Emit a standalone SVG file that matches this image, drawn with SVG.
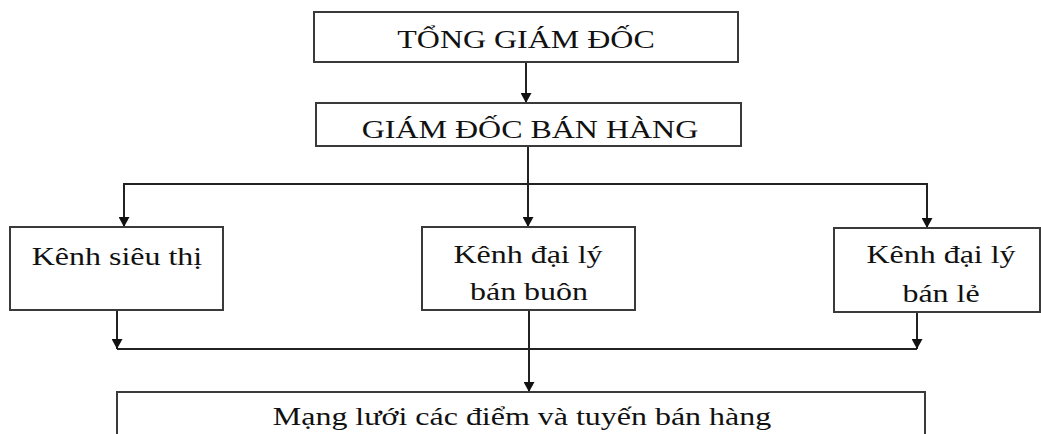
<svg xmlns="http://www.w3.org/2000/svg" width="1041" height="434" viewBox="0 0 1041 434">
  <style>
    .box { fill: #ffffff; stroke: #3a3a3a; stroke-width: 2; }
    .wire { fill: none; stroke: #222222; stroke-width: 2; }
    .lbl { font-family: "Liberation Serif", "Times New Roman", serif; font-size: 26px; fill: #111111; text-anchor: middle; }
  </style>
  <defs>
    <!-- solid triangular arrowhead, tip at the end of the line -->
    <marker id="tip" markerUnits="userSpaceOnUse" markerWidth="12" markerHeight="11" refX="11" refY="6" orient="auto" viewBox="0 0 11 12">
      <path d="M0,0 L11,6 L0,12 Z" fill="#111111"/>
    </marker>
  </defs>
  <rect width="1041" height="434" fill="#ffffff"/>

  <!-- connectors -->
  <g id="connectors">
    <line class="wire" x1="526" y1="62" x2="526" y2="103" marker-end="url(#tip)"/>
    <line class="wire" x1="528" y1="146" x2="528" y2="227" marker-end="url(#tip)"/>
    <polyline class="wire" points="124,184 927,184 927,228" marker-end="url(#tip)"/>
    <line class="wire" x1="124" y1="183" x2="124" y2="227" marker-end="url(#tip)"/>
    <line class="wire" x1="117" y1="310" x2="117" y2="349" marker-end="url(#tip)"/>
    <line class="wire" x1="917" y1="312" x2="917" y2="349" marker-end="url(#tip)"/>
    <line class="wire" x1="117" y1="349" x2="917" y2="349"/>
    <line class="wire" x1="529" y1="310" x2="529" y2="392" marker-end="url(#tip)"/>
  </g>

  <g id="tong-giam-doc">
    <rect class="box" x="314" y="12" width="424" height="50"/>
    <text class="lbl" transform="translate(526 48) scale(1.23 1)">TỔNG GIÁM ĐỐC</text>
  </g>

  <g id="giam-doc-ban-hang">
    <rect class="box" x="316" y="103" width="425" height="43"/>
    <text class="lbl" transform="translate(530 138) scale(1.23 1)">GIÁM ĐỐC BÁN HÀNG</text>
  </g>

  <g id="kenh-sieu-thi">
    <rect class="box" x="10" y="227" width="213" height="83"/>
    <text class="lbl" transform="translate(117 265) scale(1.23 1)">Kênh siêu thị</text>
  </g>

  <g id="kenh-ban-buon">
    <rect class="box" x="422" y="227" width="213" height="83"/>
    <text class="lbl" transform="translate(528 263) scale(1.23 1)">Kênh đại lý</text>
    <text class="lbl" transform="translate(529 300) scale(1.23 1)">bán buôn</text>
  </g>

  <g id="kenh-ban-le">
    <rect class="box" x="834" y="228" width="206" height="84"/>
    <text class="lbl" transform="translate(941 263) scale(1.23 1)">Kênh đại lý</text>
    <text class="lbl" transform="translate(941 302) scale(1.23 1)">bán lẻ</text>
  </g>

  <g id="mang-luoi">
    <rect class="box" x="117" y="392" width="808" height="60"/>
    <text class="lbl" transform="translate(522 425) scale(1.23 1)">Mạng lưới các điểm và tuyến bán hàng</text>
  </g>
</svg>
